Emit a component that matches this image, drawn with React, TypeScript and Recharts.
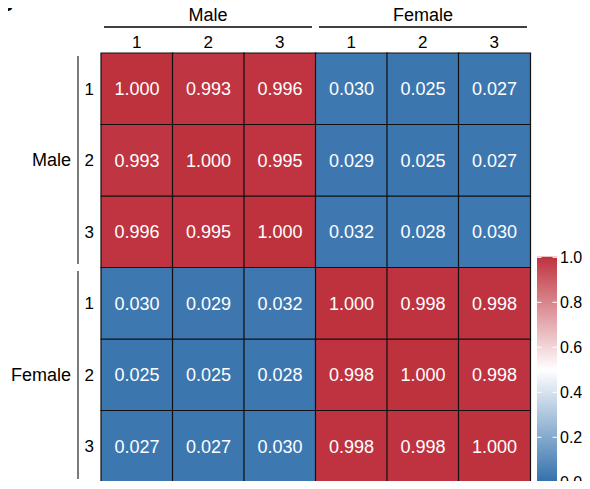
import React from 'react';
import { BarChart, Bar, XAxis, YAxis, Cell, LabelList } from 'recharts';

const groups = ['Male', 'Female'];
const colLabels = ['1', '2', '3', '1', '2', '3'];
const rowLabels = ['1', '2', '3', '1', '2', '3'];
const matrix = [
  [1.0, 0.993, 0.996, 0.03, 0.025, 0.027],
  [0.993, 1.0, 0.995, 0.029, 0.025, 0.027],
  [0.996, 0.995, 1.0, 0.032, 0.028, 0.03],
  [0.03, 0.029, 0.032, 1.0, 0.998, 0.998],
  [0.025, 0.025, 0.028, 0.998, 1.0, 0.998],
  [0.027, 0.027, 0.03, 0.998, 0.998, 1.0],
];
const legendTicks = [0, 0.2, 0.4, 0.6, 0.8, 1.0];

const FONT = '"Liberation Sans", Arial, sans-serif';
const LOW = [50, 111, 171];
const MID = [255, 255, 255];
const HIGH = [190, 50, 62];

const fillFor = (v: number) => {
  const a = v < 0.5 ? LOW : MID;
  const b = v < 0.5 ? MID : HIGH;
  const t = v < 0.5 ? v / 0.5 : (v - 0.5) / 0.5;
  const c = a.map((x, i) => Math.round(x + (b[i] - x) * t));
  return `rgb(${c[0]},${c[1]},${c[2]})`;
};

// one entry per column; every row is a unit-high stacked segment
const data = colLabels.map((label, ci) => {
  const d: any = { key: `c${ci}`, label };
  matrix.forEach((row, ri) => {
    d[`r${ri}`] = 1;
    d[`v${ri}`] = row[ci];
  });
  return d;
});

// rows drawn bottom-up so row 0 lands on top
const stackOrder = [5, 4, 3, 2, 1, 0];

const Overlay = () => {
  const barTop = 257.3;
  const barBottom = 482.3;
  const ly = (v: number) => barBottom - (barBottom - barTop) * v;
  return (
    <svg
      width={590}
      height={489}
      style={{ position: 'absolute', left: 0, top: 0, pointerEvents: 'none' }}
    >
      <defs>
        <linearGradient id="cbar" x1="0" y1="0" x2="0" y2="1">
          {[1, 0.9, 0.8, 0.7, 0.6, 0.5, 0.4, 0.3, 0.2, 0.1, 0].map((v, i) => (
            <stop key={i} offset={`${(1 - v) * 100}%`} stopColor={fillFor(v)} />
          ))}
        </linearGradient>
      </defs>

      {/* column group headers */}
      <text x={208} y={21} textAnchor="middle" fontSize={18} fontFamily={FONT} fill="#000">{groups[0]}</text>
      <line x1={104} x2={312} y1={27} y2={27} stroke="#000" strokeWidth={1.3} />
      <text x={423} y={21} textAnchor="middle" fontSize={18} fontFamily={FONT} fill="#000">{groups[1]}</text>
      <line x1={319} x2={527} y1={27} y2={27} stroke="#000" strokeWidth={1.3} />

      {/* row group headers */}
      <text x={71} y={166} textAnchor="end" fontSize={18} fontFamily={FONT} fill="#000">{groups[0]}</text>
      <line x1={78} x2={78} y1={56} y2={264} stroke="#333" strokeWidth={1.3} />
      <text x={71} y={381} textAnchor="end" fontSize={18} fontFamily={FONT} fill="#000">{groups[1]}</text>
      <line x1={78} x2={78} y1={271} y2={479} stroke="#333" strokeWidth={1.3} />

      {/* colour bar */}
      <rect x={537} y={256.7} width={20} height={226.3} fill="url(#cbar)" />
      {legendTicks.map((t) => (
        <g key={t}>
          <line x1={537} x2={541.5} y1={ly(t)} y2={ly(t)} stroke="#fff" strokeWidth={1} />
          <line x1={552.5} x2={557} y1={ly(t)} y2={ly(t)} stroke="#fff" strokeWidth={1} />
          <text x={560} y={ly(t) + 5.7} fontSize={16} fontFamily={FONT} fill="#000">{t.toFixed(1)}</text>
        </g>
      ))}
    </svg>
  );
};

export default function App() {
  return (
    <div style={{ position: 'relative', width: 590, height: 489, margin: -8, background: '#fff', overflow: 'hidden' }}>
      <BarChart
        width={590}
        height={489}
        data={data}
        margin={{ top: 33, right: 60, bottom: 7, left: 71 }}
        barCategoryGap={0}
        barGap={0}
      >
        <XAxis
          dataKey="key"
          type="category"
          orientation="top"
          height={20}
          axisLine={false}
          tickLine={false}
          tickSize={0}
          tickMargin={5}
          tickFormatter={(k: string) => colLabels[Number(k.slice(1))]}
          tick={{ fontSize: 17, fill: '#000', fontFamily: FONT }}
          interval={0}
        />
        <YAxis
          type="number"
          domain={[0, 6]}
          ticks={[0.5, 1.5, 2.5, 3.5, 4.5, 5.5]}
          width={30}
          axisLine={false}
          tickLine={false}
          tickSize={0}
          tickMargin={7}
          tickFormatter={(v: number) => rowLabels[5 - Math.floor(v)]}
          tick={{ fontSize: 17, fill: '#000', fontFamily: FONT }}
          interval={0}
        />
        {stackOrder.map((ri) => (
          <Bar key={ri} dataKey={`r${ri}`} stackId="m" isAnimationActive={false} stroke="#111" strokeWidth={1.2}>
            {data.map((d, ci) => (
              <Cell key={ci} fill={fillFor(d[`v${ri}`])} />
            ))}
            <LabelList
              dataKey={`v${ri}`}
              position="center"
              formatter={(v: any) => Number(v).toFixed(3)}
              fill="#fff"
              fontSize={18}
              fontFamily={FONT}
            />
          </Bar>
        ))}
      </BarChart>
      <Overlay />
      <div
        style={{
          position: 'absolute',
          left: -2,
          top: -7,
          fontFamily: FONT,
          fontWeight: 700,
          fontSize: 21,
          lineHeight: '21px',
          color: '#000',
        }}
      >
        B
      </div>
    </div>
  );
}
